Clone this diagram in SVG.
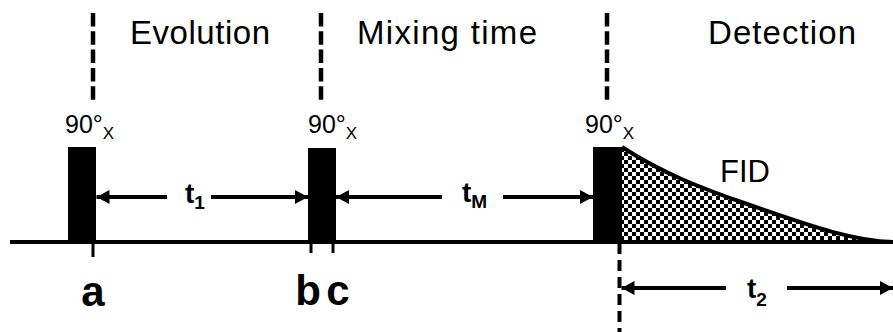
<svg xmlns="http://www.w3.org/2000/svg" width="893" height="332" viewBox="0 0 893 332">
<style>
text{font-family:"Liberation Sans",Arial,sans-serif;fill:#000}
.hd{font-size:33px}
.deg{font-size:25px}
.sx{font-size:17px}
.tl{font-size:28px;font-weight:bold}
.ts{font-size:19px;font-weight:bold}
.lt{font-size:42px;font-weight:bold}
.dash{stroke:#000;stroke-width:4.5;stroke-dasharray:13.5 4.8;fill:none}
.arr{stroke:#000;stroke-width:4;fill:none;marker-end:url(#ah)}
.tick{stroke:#000;stroke-width:3}
</style>
<defs>
<marker id="ah" viewBox="0 0 13 14" refX="13" refY="7" markerWidth="13" markerHeight="14" markerUnits="userSpaceOnUse" orient="auto">
<path d="M0,0 L13,7 L0,14 Z" fill="#000"/>
</marker>
<pattern id="chk" width="8" height="8" patternUnits="userSpaceOnUse">
<rect width="8" height="8" fill="#fff"/>
<rect width="4" height="4" fill="#000"/>
<rect x="4" y="4" width="4" height="4" fill="#000"/>
</pattern>
</defs>
<rect width="893" height="332" fill="#fff"/>

<g id="section-dividers">
<line class="dash" x1="93" y1="13" x2="93" y2="100"/>
<line class="dash" x1="321" y1="13" x2="321" y2="100"/>
<line class="dash" x1="607" y1="13" x2="607" y2="100"/>
<line class="dash" x1="619.5" y1="243" x2="619.5" y2="332" style="stroke-width:4;stroke-dasharray:11 6"/>
</g>

<g id="headings">
<text class="hd" x="130" y="44" textLength="140">Evolution</text>
<text class="hd" x="357" y="44" textLength="180">Mixing time</text>
<text class="hd" x="708" y="44" textLength="148">Detection</text>
</g>

<g id="fid">
<path d="M622,147 C660,172 700,188 750,205 S850,241 893,242 L622,242 Z" fill="url(#chk)"/>
<path d="M622,147 C660,172 700,188 750,205 S850,241 893,242" fill="none" stroke="#000" stroke-width="4"/>
<text x="720" y="182" style="font-size:31px">FID</text>
</g>

<g id="baseline">
<line x1="10" y1="242" x2="893" y2="242" stroke="#000" stroke-width="4"/>
</g>

<g id="pulse-a">
<rect x="68" y="147" width="28" height="95" fill="#000"/>
<text class="deg" x="65" y="133">90°<tspan class="sx" dy="6">X</tspan></text>
<line class="tick" x1="93" y1="242" x2="93" y2="257"/>
<text class="lt" x="93" y="306" text-anchor="middle">a</text>
</g>

<g id="pulse-b">
<rect x="308" y="148" width="28" height="94" fill="#000"/>
<text class="deg" x="308" y="133">90°<tspan class="sx" dy="6">X</tspan></text>
<line class="tick" x1="311" y1="242" x2="311" y2="253"/>
<line class="tick" x1="333" y1="242" x2="333" y2="253"/>
<text class="lt" x="308" y="305" text-anchor="middle">b</text>
<text class="lt" x="338" y="305" text-anchor="middle">c</text>
</g>

<g id="pulse-c">
<rect x="593" y="147" width="29" height="95" fill="#000"/>
<text class="deg" x="585" y="133">90°<tspan class="sx" dy="6">X</tspan></text>
</g>

<g id="connectors">
<line class="arr" x1="167" y1="197" x2="96.5" y2="197"/>
<line class="arr" x1="211" y1="197" x2="308" y2="197"/>
<line class="arr" x1="442" y1="197" x2="336" y2="197"/>
<line class="arr" x1="503" y1="197" x2="593" y2="197"/>
<line class="arr" x1="726" y1="288" x2="621.5" y2="288"/>
<line class="arr" x1="787" y1="288" x2="893" y2="288"/>
</g>

<g id="interval-labels">
<text class="tl" x="185" y="203">t<tspan class="ts" dy="6">1</tspan></text>
<text class="tl" x="462" y="202">t<tspan class="ts" dy="6">M</tspan></text>
<text class="tl" x="747" y="298">t<tspan class="ts" dy="8">2</tspan></text>
</g>
</svg>
